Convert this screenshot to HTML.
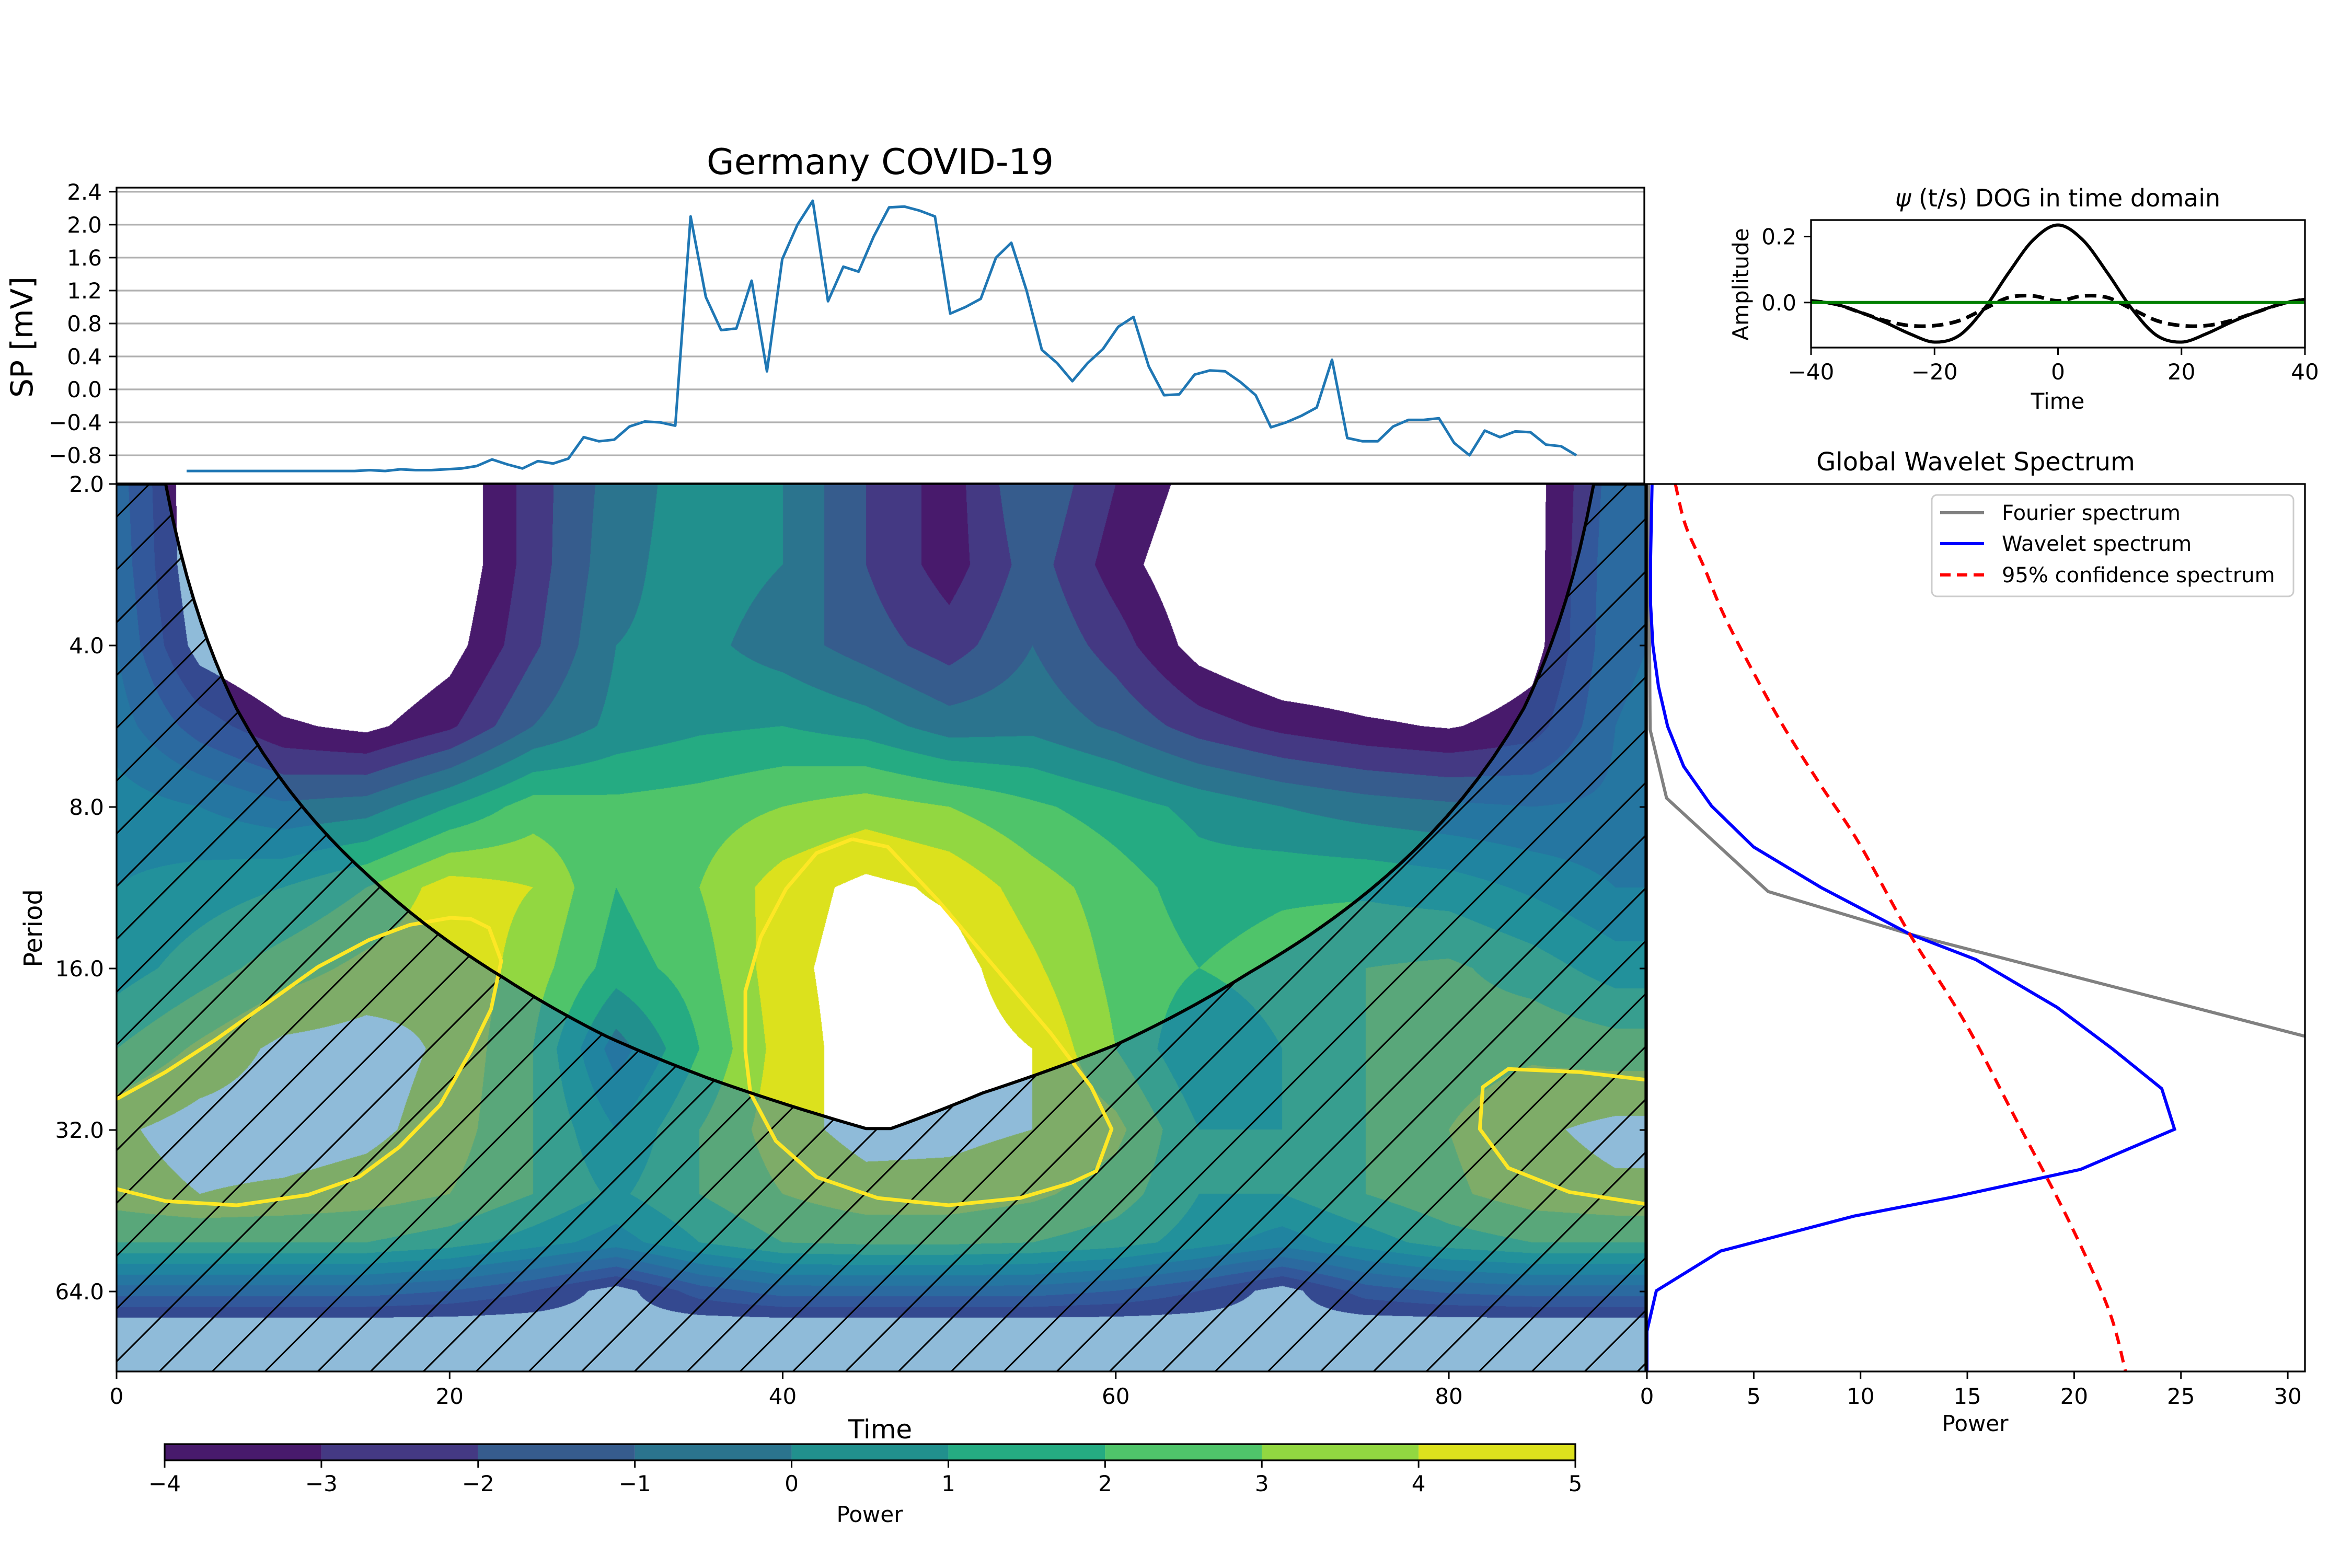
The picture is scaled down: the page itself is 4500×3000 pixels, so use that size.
<!DOCTYPE html>
<html><head><meta charset="utf-8">
<style>
html,body{margin:0;padding:0;background:#fff;}
#wrap{position:relative;width:4500px;height:3000px;overflow:hidden;background:#fff;}
#cv{position:absolute;left:223px;top:926px;width:2925px;height:1698px;}
#sv{position:absolute;left:0;top:0;}
text{font-family:"DejaVu Sans","Liberation Sans",sans-serif;fill:#000;}
</style></head>
<body>
<div id="wrap">
<canvas id="cv" width="2925" height="1698"></canvas>
<svg id="sv" width="4500" height="3000" viewBox="0 0 4500 3000" xmlns="http://www.w3.org/2000/svg">
<defs>
<pattern id="hatch" patternUnits="userSpaceOnUse" width="101" height="101">
<path d="M-10,111 L111,-10 M-111,111 L10,-10 M91,111 L212,-10" stroke="#000" stroke-width="3"/>
</pattern>
<clipPath id="clipWave"><rect x="223" y="926" width="2925" height="1698"/></clipPath>
<clipPath id="clipSpec"><rect x="3151" y="926" width="1259" height="1698"/></clipPath>
<clipPath id="clipDog"><rect x="3465" y="421" width="945" height="244"/></clipPath>
</defs>
<g id="layer"></g>
</svg>
</div>
<script>
// ---------- data ----------
const seriesValues = [-0.99,-0.99,-0.99,-0.99,-0.99,-0.99,-0.99,-0.99,-0.99,-0.99,-0.99,-0.99,
-0.98,-0.99,-0.97,-0.98,-0.98,-0.97,-0.96,-0.93,-0.85,-0.91,-0.96,-0.87,-0.9,-0.84,-0.58,-0.63,-0.61,-0.45,-0.39,-0.4,-0.44,
2.1,1.12,0.72,0.74,1.32,0.22,1.58,2.0,2.29,1.07,1.49,1.43,1.86,2.21,2.22,2.17,2.1,0.92,1.0,1.1,1.6,1.78,1.2,0.48,0.32,0.1,0.32,0.49,0.76,0.88,0.28,-0.07,-0.06,0.18,0.23,0.22,0.09,-0.07,-0.46,-0.4,-0.32,-0.22,0.36,-0.59,-0.63,-0.63,-0.45,-0.37,-0.37,-0.35,-0.65,-0.8,-0.5,-0.58,-0.51,-0.52,-0.67,-0.69,-0.8];
const topTicks = [2.4,2.0,1.6,1.2,0.8,0.4,0.0,-0.4,-0.8];

const gridT = [0,5,10,15,20,25,30,35,40,45,50,55,60,65,70,75,80,85,90,92];
const gridLog2Period = [1.0,1.5,2.0,2.5,3.0,3.5,4.0,4.5,5.0,5.4,5.7,6.0,6.2,6.5];
const powerRows = [
[-1.5,-5,-6,-6,-5,-2.5,-0.5,0.5,0,-2,-3.5,-1,-3,-4.5,-5,-5,-5,-4.5,-1.5,-1],
[-1.3,-5,-6,-6,-5,-2.5,-0.3,0.5,0,-2,-3.5,-1.5,-3.5,-5,-6,-6,-5.5,-4.5,-1.3,-1],
[-1.0,-4.5,-5.5,-5.5,-4.5,-2.2,0,0.3,-0.5,-1.5,-2.5,-1,-2.5,-4.5,-5.5,-5.5,-5.5,-4.5,-1.2,-1],
[-0.5,-2.5,-3.8,-4.3,-3.2,-1,0.3,0.8,1,0.5,-0.5,-0.3,-1.2,-2.5,-3.3,-3.8,-4.1,-3.5,-1,-0.8],
[0.5,0,-0.8,-0.5,1,2.5,2.3,2.5,3,3.5,3,2.2,1.5,0.7,0,-0.5,-0.8,-1,-0.8,-0.6],
[1,1.5,2,3,4.5,4,2,3,4.5,5.3,4.8,3.5,2.5,1.5,1.8,1.8,1.5,0.8,0,0],
[1.5,2.5,3.5,4.3,4.8,3.5,1.5,2.5,4.7,5.5,5.5,4.2,2.7,2,2.5,3,3.2,2.5,1.5,1.5],
[3,4.2,5.3,5.5,4.8,3,-0.5,2,4.5,5.5,5.6,5,3,1,2,3,3.5,3.8,3.5,3.5],
[4.8,5.5,5.6,5.3,4.5,3,1,3,4.6,5.4,5.3,5,4.3,2,2,3,4,4.8,5.3,5.3],
[4.5,5.0,4.8,4.5,4,3,1.8,3,4,4.6,4.6,4.2,3.5,2,2,3,3.8,4.5,4.8,4.8],
[3,3,3,3,2.5,1.5,0.5,2,3,3.2,3.2,3,2.5,1.5,0.5,1.5,2.5,3,3,3],
[-1.5,-1.5,-1.5,-1.5,-2,-3,-4.5,-2.5,-1.5,-1.5,-1.5,-1.5,-2,-3,-4.5,-2.5,-1.8,-1.5,-1.5,-1.5],
[-4.5,-4.5,-4.5,-4.5,-4.5,-4.5,-4.5,-4.5,-4.5,-4.5,-4.5,-4.5,-4.5,-4.5,-4.5,-4.5,-4.5,-4.5,-4.5,-4.5],
[-6,-6,-6,-6,-6,-6,-6,-6,-6,-6,-6,-6,-6,-6,-6,-6,-6,-6,-6,-6]];
const levels = [-4,-3,-2,-1,0,1,2,3,4,5];
const levelColors = ['#481a6c','#443983','#365c8d','#2b748e','#21908d','#25ab82','#4fc46a','#92d741','#dce11d'];
const periodTicks = [2,4,8,16,32,64];
const timeTicks = [0,20,40,60,80];

const coiT = [0,2.95,7.2,15.2,23.3,29.4,35.5,45,46.5,52,60,68,75.3,84.5,88.7,91.8];
const coiPeriod = [2,2,5.24,10.8,16.7,21.4,25.6,31.8,31.8,27.3,22.2,16.3,11.4,5.24,2,2];

const sigLeftT = [0.01,2.94,6.0,9.05,12.1,15.16,17.6,20.05,21.27,22.37,23.1,22.49,21.27,19.43,16.99,14.55,11.49,7.22,2.94,0.01];
const sigLeftL = [4.808,4.641,4.437,4.214,3.990,3.823,3.730,3.686,3.693,3.749,3.953,4.251,4.511,4.845,5.105,5.291,5.402,5.466,5.440,5.365];
const sigMidT = [44.17,42.03,40.2,38.68,37.76,37.76,38.06,39.59,42.03,45.7,49.97,54.25,57.3,58.83,59.75,58.53,56.08,53.03,49.36,46.31,44.17];
const sigMidL = [3.199,3.285,3.507,3.805,4.139,4.511,4.771,5.068,5.291,5.421,5.466,5.421,5.328,5.254,4.994,4.734,4.399,4.028,3.582,3.247,3.199];
const sigRightT = [91.82,87.85,83.57,82.04,81.86,83.57,87.24,91.82];
const sigRightL = [4.689,4.641,4.622,4.734,4.994,5.235,5.384,5.458];

const wavePeriod = [2.0,2.78,3.34,4.0,4.77,5.66,6.72,7.97,9.5,11.3,13.8,15.4,18.9,22.6,26.8,31.9,37.9,42.7,46.3,53.8,63.8,75.9,90];
const wavePower = [0.24,0.17,0.17,0.28,0.54,0.97,1.72,3.03,5.0,8.15,12.3,15.4,19.2,21.8,24.1,24.7,20.3,14.3,9.7,3.45,0.44,0.0,0.0];
const fourierPeriod = [2.0,5.74,7.7,11.5,13.8,21.5];
const fourierPower = [0.07,0.15,0.92,5.68,12.3,31.0];
const sigSpecPeriod = [2.0,2.39,2.86,3.48,4.4,5.67,7.3,9.3,13.8,20.2,30.7,46.8,68.9,90];
const sigSpecPower = [1.33,1.81,2.68,3.56,4.87,6.4,8.15,9.9,12.3,14.9,17.3,19.7,21.6,22.4];
const specTicks = [0,5,10,15,20,25,30];

const dogT = [-40,-36,-32,-28,-24,-20,-16,-12,-8,-4,0,4,8,12,16,20,24,28,32,36,40];
const dogSolid = [0.005,-0.005,-0.03,-0.06,-0.095,-0.12,-0.1,-0.02,0.09,0.19,0.235,0.19,0.09,-0.02,-0.1,-0.12,-0.095,-0.06,-0.03,-0.005,0.01];
const dogDashed = [0.005,-0.005,-0.03,-0.055,-0.07,-0.07,-0.055,-0.02,0.015,0.02,0.005,0.02,0.015,-0.02,-0.055,-0.07,-0.07,-0.055,-0.03,-0.005,0.01];
const dogXTicks = [-40,-20,0,20,40];
const dogYTicks = [0.2,0.0];
const cbarTicks = [-4,-3,-2,-1,0,1,2,3,4,5];

// ---------- scales ----------
const WX0=223, WX1=3148, WY0=926, WY1=2624, TMAX=91.8;
const xT = t => WX0 + t/TMAX*(WX1-WX0);
const yL = l => WY0 + (l-1)*309;
const yP = p => yL(Math.log2(p));
const xTop = i => 357 + i*(3016-357)/(seriesValues.length-1);
const yTop = v => 366.8 + (2.4-v)*157.6;
const xSpec = p => 3151 + p*40.87;
const xDog = t => 3465 + (t+40)/80*945;
const yDog = v => 578.8 - v*631;
const xCb = v => 315 + (v+4)*(3014-315)/9;

const NS='http://www.w3.org/2000/svg';
const layer=document.getElementById('layer');
function mk(tag, attrs, parent){const e=document.createElementNS(NS,tag);for(const k in attrs)e.setAttribute(k,attrs[k]);(parent||layer).appendChild(e);return e;}
function txt(s, x, y, size, anchor, parent, extra){const e=mk('text',Object.assign({x:x,y:y,'font-size':size,'text-anchor':anchor||'middle'},extra||{}),parent);e.textContent=s;return e;}
const fmtMinus = s => s.replace('-', '\u2212');

// ---------- contour canvas ----------
(function(){
  const cv=document.getElementById('cv');const ctx=cv.getContext('2d');
  const W=cv.width,H=cv.height;const img=ctx.createImageData(W,H);const d=img.data;
  const rgb=levelColors.map(c=>[parseInt(c.substr(1,2),16),parseInt(c.substr(3,2),16),parseInt(c.substr(5,2),16)]);
  const ci=new Int32Array(W),cw=new Float32Array(W);
  for(let x=0;x<W;x++){const t=(x+0.5)/W*TMAX;let j=0;while(j<gridT.length-2&&t>gridT[j+1])j++;ci[x]=j;cw[x]=Math.min(1,Math.max(0,(t-gridT[j])/(gridT[j+1]-gridT[j])));}
  for(let y=0;y<H;y++){
    const l=1+(y+0.5)/H*5.5;let i=0;while(i<gridLog2Period.length-2&&l>gridLog2Period[i+1])i++;
    const rw=Math.min(1,Math.max(0,(l-gridLog2Period[i])/(gridLog2Period[i+1]-gridLog2Period[i])));
    const r0=powerRows[i],r1=powerRows[i+1];
    for(let x=0;x<W;x++){
      const j=ci[x],w=cw[x];
      const a=r0[j]*(1-w)+r0[j+1]*w,b=r1[j]*(1-w)+r1[j+1]*w;const v=a*(1-rw)+b*rw;
      const o=(y*W+x)*4;
      if(v<levels[0]||v>=levels[levels.length-1]){d[o]=255;d[o+1]=255;d[o+2]=255;}
      else{const k=Math.min(8,Math.floor(v-levels[0]));d[o]=rgb[k][0];d[o+1]=rgb[k][1];d[o+2]=rgb[k][2];}
      d[o+3]=255;
    }
  }
  ctx.putImageData(img,0,0);
})();

// ---------- wavelet overlay ----------
const gW=mk('g',{'clip-path':'url(#clipWave)'});


function coiPts(){const pts=[];for(let k=0;k<coiT.length-1;k++){for(let s=0;s<10;s++){const f=s/10;const t=coiT[k]+(coiT[k+1]-coiT[k])*f;const p=coiPeriod[k]+(coiPeriod[k+1]-coiPeriod[k])*f;pts.push([xT(t),yP(p)]);}}pts.push([xT(coiT[coiT.length-1]),yP(coiPeriod[coiPeriod.length-1])]);return pts;}
const cp=coiPts();
let coiD='M'+xT(0)+','+yP(2)+' '+cp.map(p=>'L'+p[0].toFixed(1)+','+p[1].toFixed(1)).join(' ')+' L'+xT(TMAX)+','+WY1+' L'+xT(0)+','+WY1+' Z';
const coiFill=mk('path',{d:coiD,fill:'#1f77b4','fill-opacity':0.5},gW);


const coiHatch=mk('path',{d:coiD,fill:'url(#hatch)'},gW);


function sigPath(T,L){return T.map((t,k)=>(k?'L':'M')+xT(t).toFixed(1)+','+yL(L[k]).toFixed(1)).join(' ');}
[[sigLeftT,sigLeftL,'significance-contour-left'],[sigMidT,sigMidL,'significance-contour-middle'],[sigRightT,sigRightL,'significance-contour-right']].forEach(s=>{
  const e=mk('path',{d:sigPath(s[0],s[1]),fill:'none',stroke:'#fde725','stroke-width':7,'stroke-linejoin':'round'},gW);
  
  
});
const coiLine=mk('path',{d:cp.map((p,k)=>(k?'L':'M')+p[0].toFixed(1)+','+p[1].toFixed(1)).join(' '),fill:'none',stroke:'#000','stroke-width':6},gW);



// wavelet axes
const waveFrame=mk('rect',{x:WX0,y:WY0,width:WX1-WX0,height:WY1-WY0,fill:'none',stroke:'#000','stroke-width':3.3});


periodTicks.forEach(p=>{
  mk('line',{x1:WX0-14,x2:WX0,y1:yP(p),y2:yP(p),stroke:'#000','stroke-width':3});
  const e=txt(p.toFixed(1),WX0-24,yP(p)+15,42,'end');
  
  
});
timeTicks.forEach(t=>{
  mk('line',{x1:xT(t),x2:xT(t),y1:WY1,y2:WY1+14,stroke:'#000','stroke-width':3});
  const e=txt(String(t),xT(t),2686,42);
  
  
});
let e;
e=txt('Time',1684,2752,50);
e=txt('Period',80,1776,48,'middle',null,{transform:'rotate(-90 80 1776)'});

// ---------- top series ----------
topTicks.forEach(v=>{
  const g=mk('line',{x1:223,x2:3146,y1:yTop(v),y2:yTop(v),stroke:'#b0b0b0','stroke-width':3.3});
  
  
  mk('line',{x1:209,x2:223,y1:yTop(v),y2:yTop(v),stroke:'#000','stroke-width':3});
  const t=txt(fmtMinus(v.toFixed(1)),195,yTop(v)+15,42,'end');
  
  
});
e=mk('polyline',{points:seriesValues.map((v,i)=>xTop(i).toFixed(1)+','+yTop(v).toFixed(1)).join(' '),fill:'none',stroke:'#1f77b4','stroke-width':5,'stroke-linejoin':'round'});

e=mk('rect',{x:223,y:359,width:2923,height:566,fill:'none',stroke:'#000','stroke-width':3.3});

e=txt('Germany COVID-19',1684,333,68);
e=txt('SP [mV]',62,645,58,'middle',null,{transform:'rotate(-90 62 645)'});

// ---------- DOG panel ----------
function smooth(xs,ys){let d='M'+xs[0].toFixed(1)+','+ys[0].toFixed(1);for(let i=0;i<xs.length-1;i++){const x0=xs[Math.max(0,i-1)],y0=ys[Math.max(0,i-1)],x1=xs[i],y1=ys[i],x2=xs[i+1],y2=ys[i+1],x3=xs[Math.min(xs.length-1,i+2)],y3=ys[Math.min(xs.length-1,i+2)];d+=' C'+(x1+(x2-x0)/6).toFixed(1)+','+(y1+(y2-y0)/6).toFixed(1)+' '+(x2-(x3-x1)/6).toFixed(1)+','+(y2-(y3-y1)/6).toFixed(1)+' '+x2.toFixed(1)+','+y2.toFixed(1);}return d;}
const gD=mk('g',{'clip-path':'url(#clipDog)'});

e=mk('path',{d:smooth(dogT.map(xDog),dogDashed.map(yDog)),fill:'none',stroke:'#000','stroke-width':7,'stroke-dasharray':'22,12'},gD);

e=mk('path',{d:smooth(dogT.map(xDog),dogSolid.map(yDog)),fill:'none',stroke:'#000','stroke-width':6},gD);

e=mk('line',{x1:3465,x2:4410,y1:yDog(0),y2:yDog(0),stroke:'#008000','stroke-width':6},gD);

e=mk('rect',{x:3465,y:421,width:945,height:244,fill:'none',stroke:'#000','stroke-width':3.3});

dogXTicks.forEach(t=>{mk('line',{x1:xDog(t),x2:xDog(t),y1:665,y2:679,stroke:'#000','stroke-width':3});const l=txt(fmtMinus(String(t)),xDog(t),726,42);});
dogYTicks.forEach(v=>{mk('line',{x1:3451,x2:3465,y1:yDog(v),y2:yDog(v),stroke:'#000','stroke-width':3});const l=txt(v.toFixed(1),3437,yDog(v)+15,42,'end');});
e=txt('',3937,395,46);

(function(){const s1=document.createElementNS(NS,'tspan');s1.setAttribute('font-style','italic');s1.textContent='\u03c8';e.appendChild(s1);const s2=document.createElementNS(NS,'tspan');s2.textContent=' (t/s) DOG in time domain';e.appendChild(s2);})();
e=txt('Time',3937,782,42);
e=txt('Amplitude',3345,544,42,'middle',null,{transform:'rotate(-90 3345 544)'});

// ---------- global spectrum ----------
const gS=mk('g',{'clip-path':'url(#clipSpec)'});

e=mk('polyline',{points:fourierPeriod.map((p,k)=>xSpec(fourierPower[k]).toFixed(1)+','+yP(p).toFixed(1)).join(' '),fill:'none',stroke:'#808080','stroke-width':6},gS);

e=mk('polyline',{points:wavePeriod.map((p,k)=>xSpec(wavePower[k]).toFixed(1)+','+yP(p).toFixed(1)).join(' '),fill:'none',stroke:'#0000ff','stroke-width':6},gS);

e=mk('path',{d:smooth(sigSpecPower.map(xSpec),sigSpecPeriod.map(yP)),fill:'none',stroke:'#ff0000','stroke-width':6,'stroke-dasharray':'22,14'},gS);

e=mk('rect',{x:3151,y:926,width:1259,height:1698,fill:'none',stroke:'#000','stroke-width':3.3});

periodTicks.forEach(p=>mk('line',{x1:3137,x2:3151,y1:yP(p),y2:yP(p),stroke:'#000','stroke-width':3}));
specTicks.forEach(v=>{mk('line',{x1:xSpec(v),x2:xSpec(v),y1:2624,y2:2638,stroke:'#000','stroke-width':3});const l=txt(String(v),xSpec(v),2686,42);});
e=txt('Power',3779,2738,42);
e=txt('Global Wavelet Spectrum',3780,900,48);
// legend
const gL=mk('g',{});

mk('rect',{x:3696,y:947,width:692,height:194,rx:10,fill:'#fff','fill-opacity':0.8,stroke:'#cccccc','stroke-width':3},gL);
[['Fourier spectrum','#808080',null,981],['Wavelet spectrum','#0000ff',null,1040],['95% confidence spectrum','#ff0000','20,12',1100]].forEach(r=>{
  const ln=mk('line',{x1:3712,x2:3796,y1:r[3],y2:r[3],stroke:r[1],'stroke-width':6},gL);
  if(r[2])ln.setAttribute('stroke-dasharray',r[2]);
  const t=txt(r[0],3830,r[3]+14,40,'start',gL);
  
  
});

// ---------- colorbar ----------
const gC=mk('g',{});

levelColors.forEach((c,k)=>{const r=mk('rect',{x:xCb(levels[k]),y:2763,width:xCb(levels[k+1])-xCb(levels[k]),height:31,fill:c},gC);});
mk('rect',{x:315,y:2763,width:2699,height:31,fill:'none',stroke:'#000','stroke-width':3.3},gC);
cbarTicks.forEach(v=>{mk('line',{x1:xCb(v),x2:xCb(v),y1:2794,y2:2808,stroke:'#000','stroke-width':3},gC);const l=txt(fmtMinus(String(v)),xCb(v),2853,42,'middle',gC);});
e=txt('Power',1664,2912,42,'middle',gC);
</script>
</body></html>
